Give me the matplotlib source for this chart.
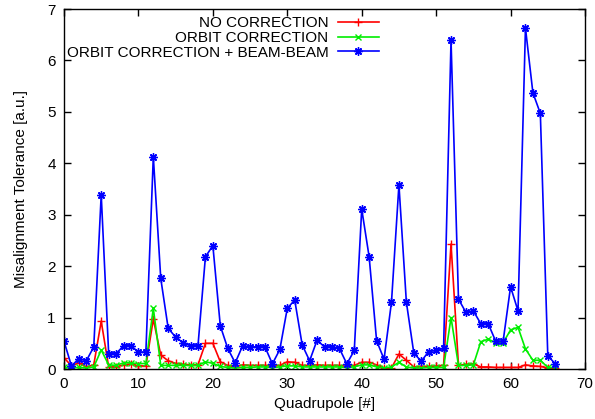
import numpy as np
import matplotlib
matplotlib.use("Agg")
import matplotlib.pyplot as plt

plt.rcParams['font.family'] = ['Liberation Sans', 'DejaVu Sans']

# quadrupole index 0..66
quad = list(range(67))

no_corr = [0.22, 0.06, 0.12, 0.04, 0.08, 0.93, 0.04, 0.04, 0.08, 0.10,
           0.06, 0.06, 0.97, 0.27, 0.16, 0.11, 0.09, 0.08, 0.08, 0.50,
           0.50, 0.14, 0.07, 0.04, 0.08, 0.07, 0.07, 0.07, 0.06, 0.07,
           0.14, 0.13, 0.07, 0.07, 0.08, 0.07, 0.07, 0.07, 0.05, 0.07,
           0.13, 0.13, 0.08, 0.02, 0.02, 0.29, 0.17, 0.04, 0.05, 0.05,
           0.06, 0.07, 2.43, 0.07, 0.09, 0.10, 0.04, 0.04, 0.03, 0.03,
           0.03, 0.03, 0.08, 0.06, 0.05, 0.02, 0.02]

orbit_corr = [0.03, 0.02, 0.03, 0.02, 0.04, 0.37, 0.08, 0.07, 0.12, 0.12,
              0.10, 0.11, 1.18, 0.07, 0.07, 0.07, 0.07, 0.07, 0.07, 0.14,
              0.11, 0.05, 0.03, 0.02, 0.03, 0.03, 0.04, 0.04, 0.03, 0.04,
              0.06, 0.06, 0.04, 0.04, 0.04, 0.04, 0.04, 0.04, 0.03, 0.04,
              0.08, 0.08, 0.04, 0.02, 0.04, 0.13, 0.04, 0.02, 0.02, 0.03,
              0.03, 0.03, 1.00, 0.07, 0.07, 0.08, 0.53, 0.58, 0.51, 0.51,
              0.76, 0.81, 0.39, 0.17, 0.17, 0.03, 0.03]

orbit_bb = [0.54, 0.06, 0.20, 0.16, 0.43, 3.39, 0.30, 0.30, 0.45, 0.45,
            0.33, 0.33, 4.13, 1.76, 0.79, 0.62, 0.51, 0.45, 0.45, 2.18,
            2.40, 0.84, 0.40, 0.12, 0.45, 0.43, 0.43, 0.43, 0.10, 0.38,
            1.18, 1.34, 0.47, 0.16, 0.56, 0.43, 0.43, 0.40, 0.10, 0.36,
            3.11, 2.18, 0.55, 0.19, 1.30, 3.58, 1.30, 0.31, 0.15, 0.34,
            0.36, 0.40, 6.39, 1.36, 1.10, 1.13, 0.88, 0.88, 0.54, 0.54,
            1.60, 1.13, 6.63, 5.37, 4.97, 0.26, 0.10]

fig = plt.figure(figsize=(5.95, 4.19), dpi=100)
ax = fig.add_axes([64 / 595, 1 - 369 / 419, (585 - 64) / 595, (369 - 9) / 419])

ax.plot(quad, no_corr, color='#ff0000', lw=1.2, marker='+', ms=6, mew=1.0,
        label='NO CORRECTION')
ax.plot(quad, orbit_corr, color='#00ee00', lw=1.2, marker='x', ms=5, mew=1.0,
        label='ORBIT CORRECTION')
ax.plot(quad, orbit_bb, color='#0000ff', lw=1.2, marker=(8, 2, 0), ms=6, mew=1.0,
        label='ORBIT CORRECTION + BEAM-BEAM')

ax.set_xlim(0, 70)
ax.set_ylim(0, 7)
ax.set_xticks(range(0, 71, 10))
ax.set_yticks(range(0, 8))
ax.tick_params(direction='in', length=5, width=1, top=True, right=True,
               labelsize=11, pad=6, colors='black')
for s in ax.spines.values():
    s.set_linewidth(1)

ax.set_xlabel('Quadrupole [#]', fontsize=11, labelpad=4)
ax.set_ylabel('Misalignment Tolerance [a.u.]', fontsize=11, labelpad=14)

ax.legend(loc='upper right', bbox_to_anchor=(379 / 595, 1 - 16 / 419),
          bbox_transform=fig.transFigure, frameon=False, markerfirst=False,
          fontsize=11, handlelength=2.7, handletextpad=0.6, labelspacing=0.06,
          borderpad=0, borderaxespad=0)

fig.savefig('out.png', dpi=100)
